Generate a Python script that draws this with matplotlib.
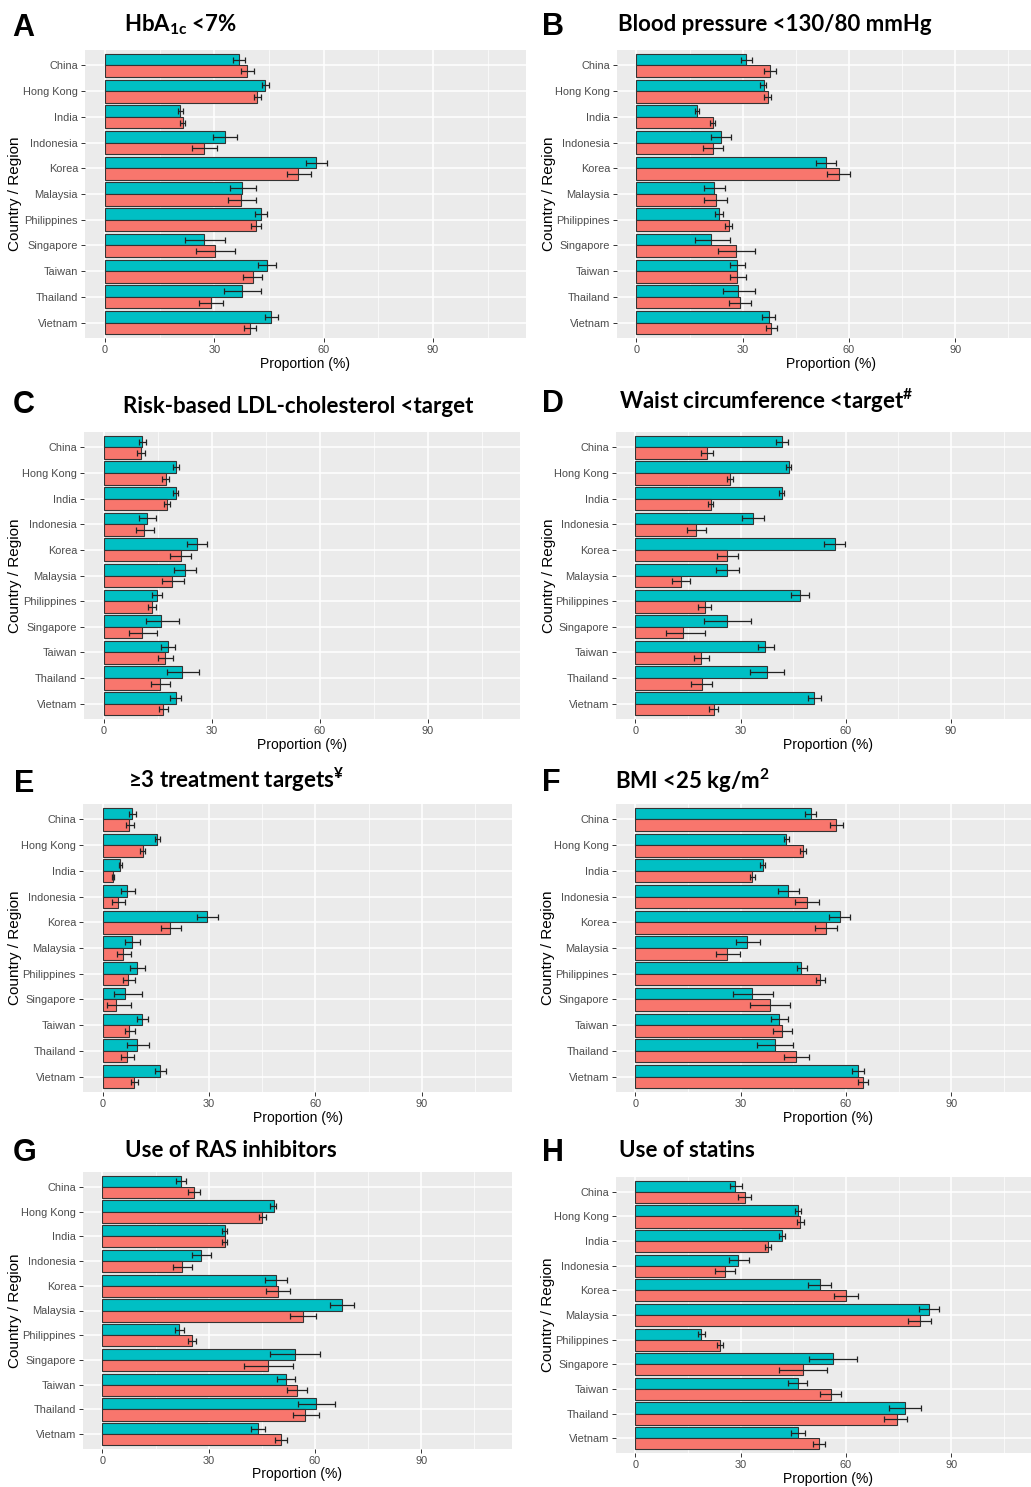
import numpy as np
import matplotlib.pyplot as plt

# --- data (proportion %, with 95% CI) ---
countries = ['China', 'Hong Kong', 'India', 'Indonesia', 'Korea', 'Malaysia',
             'Philippines', 'Singapore', 'Taiwan', 'Thailand', 'Vietnam']

# A: HbA1c <7%
hba1c_g1 = [36.8, 43.9, 20.6, 32.8, 57.9, 37.7, 42.8, 27.2, 44.5, 37.7, 45.6]
hba1c_g1_ci = [(35.0, 38.3), (43.1, 45.0), (20.0, 21.3), (29.5, 36.1), (55.0, 60.8), (34.2, 41.3),
               (41.1, 44.5), (22.0, 32.8), (42.0, 46.9), (32.6, 42.8), (43.8, 47.5)]
hba1c_g2 = [39.0, 41.7, 21.4, 27.1, 53.0, 37.3, 41.4, 30.1, 40.5, 29.1, 39.7]
hba1c_g2_ci = [(37.2, 40.8), (40.8, 42.8), (20.6, 22.0), (23.9, 30.7), (50.0, 56.4), (33.7, 41.3),
               (40.1, 42.9), (25.0, 35.6), (37.9, 43.0), (25.9, 32.4), (38.1, 41.3)]

# B: blood pressure <130/80 mmHg
bp_g1 = [30.9, 35.9, 17.1, 23.8, 53.5, 21.8, 23.3, 21.1, 28.5, 28.8, 37.3]
bp_g1_ci = [(29.5, 32.5), (34.9, 36.7), (16.4, 17.6), (21.1, 26.7), (50.6, 56.4), (19.0, 24.9),
            (22.2, 24.4), (16.4, 26.5), (26.3, 30.6), (24.3, 33.6), (35.5, 39.0)]
bp_g2 = [37.7, 37.0, 21.6, 21.5, 57.2, 22.4, 26.0, 28.1, 28.5, 29.1, 38.1]
bp_g2_ci = [(35.9, 39.5), (36.0, 37.9), (20.9, 22.3), (18.8, 24.4), (53.9, 60.4), (19.2, 25.6),
            (25.0, 27.0), (23.0, 33.6), (26.3, 31.0), (26.0, 32.4), (36.6, 39.7)]

# C: risk-based LDL-cholesterol <target
ldl_g1 = [10.7, 20.0, 19.9, 12.0, 25.8, 22.5, 14.7, 15.9, 17.7, 21.7, 19.9]
ldl_g1_ci = [(9.7, 11.8), (19.1, 20.8), (19.1, 20.5), (9.9, 14.4), (23.0, 28.6), (19.4, 25.7),
             (13.5, 16.2), (11.6, 20.8), (15.9, 19.7), (17.5, 26.3), (18.4, 21.3)]
ldl_g2 = [10.2, 17.2, 17.6, 11.1, 21.3, 19.0, 13.4, 10.5, 16.9, 15.5, 16.5]
ldl_g2_ci = [(9.1, 11.5), (16.1, 18.0), (16.7, 18.3), (8.8, 13.9), (18.5, 24.3), (16.1, 22.2),
             (12.3, 14.5), (7.1, 14.7), (14.9, 19.1), (13.0, 18.3), (15.3, 17.8)]

# D: waist circumference <target
waist_g1 = [41.8, 43.8, 41.8, 33.6, 56.8, 26.2, 46.9, 26.0, 37.1, 37.5, 51.0]
waist_g1_ci = [(40.0, 43.6), (42.9, 44.5), (40.9, 42.4), (30.4, 36.8), (53.8, 59.8), (23.1, 29.5),
               (44.3, 49.5), (19.7, 33.1), (34.9, 39.5), (32.6, 42.5), (49.1, 52.9)]
waist_g2 = [20.4, 27.0, 21.5, 17.3, 26.2, 13.0, 19.8, 13.6, 18.7, 19.0, 22.3]
waist_g2_ci = [(18.7, 22.1), (26.1, 27.9), (20.8, 22.2), (14.6, 20.1), (23.4, 29.2), (10.5, 15.7),
               (17.9, 21.7), (8.7, 19.8), (16.6, 20.9), (16.0, 22.0), (21.0, 23.6)]

# E: >=3 treatment targets
three_g1 = [8.4, 15.4, 5.0, 6.9, 29.5, 8.3, 9.8, 6.3, 11.2, 9.7, 16.3]
three_g1_ci = [(7.4, 9.5), (14.8, 16.2), (4.6, 5.4), (5.1, 9.2), (26.6, 32.5), (6.3, 10.5),
               (7.7, 12.1), (3.3, 11.2), (9.8, 12.8), (6.9, 13.2), (14.9, 17.8)]
three_g2 = [7.6, 11.4, 3.0, 4.4, 19.1, 5.8, 7.1, 3.8, 7.4, 6.9, 8.8]
three_g2_ci = [(6.7, 8.8), (10.7, 12.0), (2.6, 3.3), (2.6, 6.4), (16.4, 22.0), (4.0, 8.0),
               (5.7, 9.1), (1.3, 8.1), (6.3, 9.1), (5.2, 8.8), (7.9, 9.9)]

# F: BMI <25 kg/m2
bmi_g1 = [49.9, 43.0, 36.3, 43.6, 58.2, 31.9, 47.3, 33.3, 41.0, 39.8, 63.3]
bmi_g1_ci = [(48.2, 51.6), (42.3, 43.9), (35.6, 36.9), (40.6, 46.7), (55.3, 61.2), (28.6, 35.4),
             (46.0, 48.9), (27.7, 39.3), (38.7, 43.4), (34.8, 44.9), (61.8, 65.1)]
bmi_g2 = [57.2, 47.7, 33.3, 49.0, 54.4, 26.2, 52.7, 38.3, 41.9, 45.7, 64.9]
bmi_g2_ci = [(55.4, 59.1), (46.8, 48.7), (32.6, 34.1), (45.6, 52.4), (51.3, 57.5), (23.0, 29.7),
             (51.5, 53.9), (32.8, 44.2), (39.3, 44.5), (42.3, 49.4), (63.4, 66.4)]

# G: use of RAS inhibitors
ras_g1 = [22.1, 48.3, 34.5, 27.9, 49.0, 67.6, 21.7, 54.3, 51.9, 60.4, 43.8]
ras_g1_ci = [(20.8, 23.6), (47.4, 49.1), (33.8, 35.2), (25.3, 30.5), (45.8, 52.1), (64.1, 71.1),
             (20.5, 22.9), (47.2, 61.3), (49.4, 54.4), (55.2, 65.5), (41.9, 45.8)]
ras_g2 = [25.8, 45.0, 34.5, 22.5, 49.5, 56.6, 25.3, 46.7, 54.9, 57.3, 50.3]
ras_g2_ci = [(24.1, 27.5), (44.1, 46.1), (33.6, 35.2), (19.8, 25.2), (46.1, 52.8), (52.8, 60.3),
             (24.2, 26.4), (39.9, 53.7), (52.2, 57.6), (53.8, 61.1), (48.6, 52.0)]

# H: use of statins
statin_g1 = [28.5, 46.4, 41.7, 29.3, 52.5, 83.7, 18.7, 56.3, 46.2, 76.8, 46.3]
statin_g1_ci = [(26.9, 30.3), (45.6, 47.3), (40.9, 42.5), (26.6, 32.3), (49.3, 55.7), (80.7, 86.4),
                (17.8, 19.8), (49.4, 63.0), (43.6, 49.0), (72.2, 81.3), (44.3, 48.4)]
statin_g2 = [31.1, 46.9, 37.9, 25.5, 60.0, 81.1, 24.1, 47.8, 55.7, 74.4, 52.2]
statin_g2_ci = [(29.2, 33.0), (46.0, 48.0), (37.0, 38.7), (22.6, 28.3), (56.6, 63.3), (77.8, 84.2),
                (23.2, 25.1), (40.9, 54.6), (52.7, 58.6), (70.9, 77.5), (50.5, 53.9)]

letters = ['A', 'B', 'C', 'D', 'E', 'F', 'G', 'H']
titles = ['HbA$_{1c}$ <7%', 'Blood pressure <130/80 mmHg', 'Risk-based LDL-cholesterol <target',
          'Waist circumference <target$^{\\#}$', '≥3 treatment targets$^{¥}$', 'BMI <25 kg/m$^{2}$',
          'Use of RAS inhibitors', 'Use of statins']
series = [(hba1c_g1, hba1c_g1_ci, hba1c_g2, hba1c_g2_ci),
          (bp_g1, bp_g1_ci, bp_g2, bp_g2_ci),
          (ldl_g1, ldl_g1_ci, ldl_g2, ldl_g2_ci),
          (waist_g1, waist_g1_ci, waist_g2, waist_g2_ci),
          (three_g1, three_g1_ci, three_g2, three_g2_ci),
          (bmi_g1, bmi_g1_ci, bmi_g2, bmi_g2_ci),
          (ras_g1, ras_g1_ci, ras_g2, ras_g2_ci),
          (statin_g1, statin_g1_ci, statin_g2, statin_g2_ci)]

# --- layout in pixels: panel box (left, top, right, bottom), x max shown, title/letter baselines ---
W, H = 1031, 1487
boxes = [(85, 50, 526, 338), (617, 50, 1031, 338),
         (84, 432, 520, 719), (616, 432, 1031, 719),
         (83, 804, 512, 1092), (616, 804, 1031, 1092),
         (83, 1172, 512, 1449), (616, 1177, 1031, 1453)]
xmax = [115.5, 111.4, 115.5, 112.8, 115.4, 112.7, 115.6, 112.7]
letter_xy = [(12, 36), (542, 35), (13, 413), (542, 412), (14, 792), (542, 791), (13, 1161), (542, 1161)]
title_xy = [(124, 31), (618, 31), (123, 413), (619, 409), (128, 788), (615, 789), (125, 1157), (619, 1157)]
ylab_x = [15, 549, 15, 549, 15, 548, 15, 548]
xlab_y = [364, 364, 745, 745, 1118, 1118, 1474, 1479]

TEAL = '#00BFC4'
RED = '#F8766D'

plt.rcParams['font.family'] = ['Liberation Sans', 'DejaVu Sans']
plt.rcParams['mathtext.fontset'] = 'custom'
plt.rcParams['mathtext.rm'] = 'Lato:bold'
plt.rcParams['mathtext.it'] = 'Lato:bold'
plt.rcParams['mathtext.bf'] = 'Lato:bold'
plt.rcParams['mathtext.default'] = 'rm'

fig = plt.figure(figsize=(W / 100, H / 100), dpi=100)
yy = np.arange(len(countries))

for i, (g1, ci1, g2, ci2) in enumerate(series):
    l, t, r, b = boxes[i]
    ax = fig.add_axes([l / W, 1 - b / H, (r - l) / W, (b - t) / H])
    ax.set_facecolor('#EBEBEB')
    for s in ax.spines.values():
        s.set_visible(False)

    for vals, ci, off, col in [(g1, ci1, -0.225, TEAL), (g2, ci2, 0.225, RED)]:
        vals = np.array(vals)
        lo = np.array([c[0] for c in ci])
        hi = np.array([c[1] for c in ci])
        ax.barh(yy + off, vals, height=0.45, color=col, edgecolor='#333333',
                linewidth=0.8, zorder=3)
        ax.errorbar(vals, yy + off, xerr=[vals - lo, hi - vals], fmt='none',
                    ecolor='#222222', elinewidth=0.9, capsize=2.3, capthick=0.9, zorder=4)

    ax.set_xlim(-5.5, xmax[i])
    ax.set_ylim(len(countries) - 0.4, -0.6)
    ax.set_yticks(yy)
    ax.set_yticklabels(countries)
    ax.set_xticks([0, 30, 60, 90])
    ax.set_xticks([15, 45, 75, 105], minor=True)
    ax.grid(which='major', color='white', linewidth=1.1)
    ax.grid(which='minor', axis='x', color='white', linewidth=0.5)
    ax.set_axisbelow(True)
    ax.tick_params(which='major', length=3, width=0.7, color='#333333',
                   labelcolor='#4D4D4D', labelsize=7.9, pad=2)
    ax.tick_params(which='minor', length=0)

    # axis titles
    fig.text(ylab_x[i] / W, 1 - (t + b) / 2 / H, 'Country / Region', rotation=90,
             ha='center', va='center', fontsize=11)
    xc = l + (55 + 5.5) / (xmax[i] + 5.5) * (r - l)
    fig.text(xc / W, 1 - xlab_y[i] / H, 'Proportion (%)', ha='center', va='center', fontsize=10)

    # panel letter and heading
    fig.text(letter_xy[i][0] / W, 1 - letter_xy[i][1] / H, letters[i], fontsize=22,
             fontweight='bold', va='baseline', ha='left')
    fig.text(title_xy[i][0] / W, 1 - title_xy[i][1] / H, titles[i],
             family=['Lato', 'DejaVu Sans'], fontweight='bold', fontsize=16,
             va='baseline', ha='left')

fig.savefig('out.png', dpi=100)
